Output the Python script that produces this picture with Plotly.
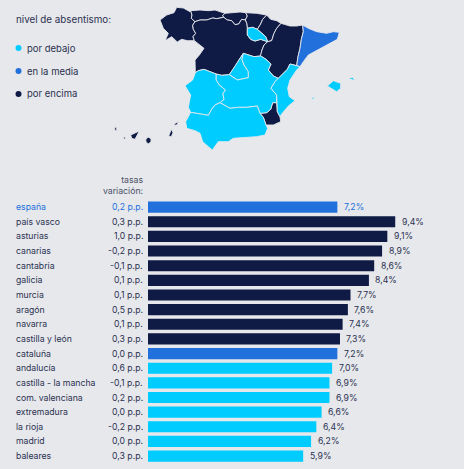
import plotly.graph_objects as go

# Absenteeism rate by region
regions = ["españa", "país vasco", "asturias", "canarias", "cantabria", "galicia", "murcia",
           "aragón", "navarra", "castilla y león", "cataluña", "andalucía",
           "castilla - la mancha", "com. valenciana", "extremadura", "la rioja", "madrid", "baleares"]
rates = [7.2, 9.4, 9.1, 8.9, 8.6, 8.4, 7.7, 7.6, 7.4, 7.3, 7.2, 7.0, 6.9, 6.9, 6.6, 6.4, 6.2, 5.9]
variation = ["0,2", "0,3", "1,0", "-0,2", "-0,1", "0,1", "0,1", "0,5", "0,1", "0,3", "0,0", "0,6",
             "-0,1", "0,2", "0,0", "-0,2", "0,0", "0,3"]
levels = ["media", "encima", "encima", "encima", "encima", "encima", "encima", "encima", "encima",
          "encima", "media", "debajo", "debajo", "debajo", "debajo", "debajo", "debajo", "debajo"]

# Shared borders between regions, in map grid units
gal_ast = [(272,32),(276,45),(274,55),(285,65)]
gal_cyl = [(285,65),(278,76),(280,88),(287,100),(279,110),(283,122)]
ast_can = [(375,40),(368,46),(371,52)]
ast_cyl = [(371,52),(350,56),(338,54),(320,60),(300,60),(285,65)]
can_pv = [(437,38),(442,48),(436,60)]
can_cyl = [(436,60),(425,58),(416,72),(405,74),(395,62),(382,60),(371,52)]
pv_nav = [(500,45),(488,58),(482,72),(472,88)]
pv_rio = [(472,88),(458,82),(442,85)]
pv_cyl = [(442,85),(440,70),(436,60)]
nav_ara = [(543,70),(530,85),(522,100),(515,122),(503,125)]
nav_rio = [(503,125),(497,110),(485,100),(472,88)]
rio_cyl = [(503,125),(482,118),(465,123),(452,118),(442,105),(442,85)]
cyl_ara = [(503,125),(492,135),(486,150),(482,165)]
cyl_clm = [(482,168),(462,170),(445,165),(430,160)]
cyl_mad = [(430,160),(418,178),(408,195),(388,224)]
cyl_clm_west = [(388,224),(365,226),(348,222)]
cyl_ext = [(348,222),(330,214),(312,208),(295,212),(286,218)]
ara_cat = [(608,75),(610,95),(604,118),(600,145),(594,170),(590,197)]
ara_val = [(590,197),(570,192),(562,208),(552,218),(535,235)]
ara_clm = [(535,235),(520,228),(505,210),(513,192),(498,178),(482,168)]
val_mur = [(540,350),(532,335),(530,308)]
val_clm = [(530,308),(530,285),(513,265),(525,245),(535,235)]
mur_and = [(498,375),(490,352),(480,340)]
mur_clm = [(480,340),(500,338),(512,328),(518,308),(530,308)]
clm_and = [(480,340),(472,318),(440,322),(415,322),(390,325),(372,315),(360,308)]
clm_ext = [(360,308),(372,298),(368,282),(376,270),(358,255),(348,240),(348,222)]
ext_and = [(272,337),(300,342),(325,346),(335,328),(345,315),(360,308)]
mad_clm = [(388,224),(412,240),(445,233),(445,215),(432,195),(426,178),(430,160)]

# Coastlines and outer frontiers
gal_coast = [(283,122),(262,122),(245,118),(232,126),(215,110),(195,122),(205,100),(190,85),(180,60),(200,45),(222,38),(230,22),(250,24),(270,35)]
ast_coast = [(272,32),(300,30),(325,32),(345,30),(375,40)]
can_coast = [(375,40),(400,38),(420,36),(437,38)]
pv_coast = [(437,38),(470,40),(500,45)]
nav_coast = [(500,45),(512,58),(530,62),(543,70)]
ara_north = [(543,70),(570,78),(590,78),(608,75)]
cat_coast = [(608,75),(625,85),(650,95),(680,100),(700,95),(718,97),(712,118),(680,135),(650,150),(625,165),(610,185),(600,200),(590,197)]
val_coast = [(590,197),(600,200),(590,210),(570,240),(563,265),(568,290),(585,302),(565,318),(545,342),(540,350)]
mur_coast = [(540,350),(542,365),(520,375),(498,375)]
and_coast = [(272,337),(257,365),(260,385),(285,392),(300,400),(308,425),(325,440),(337,450),(355,425),(385,425),(400,415),(440,412),(470,410),(495,405),(503,385),(498,375)]
cyl_west = [(286,218),(285,180),(298,165),(312,145),(295,132),(283,122)]
ext_west = [(286,218),(278,240),(255,257),(272,285),(265,322),(272,337)]

# Islands
mallorca = [(682,258),(700,242),(722,250),(722,265),(710,275)]
menorca = [(745,235),(758,232),(765,242),(750,238)]
ibiza = [(632,295),(645,290),(640,298)]
la_palma = [(44,382),(50,382),(50,392),(45,392)]
gomera = [(70,412),(76,411),(76,417),(71,417)]
tenerife = [(92,405),(118,393),(105,418),(95,415)]
gran_canaria = [(137,420),(140,414),(146,412),(153,416),(153,425),(146,431),(139,428)]
fuerteventura = [(206,408),(214,388),(219,398),(214,410)]
lanzarote = [(222,372),(235,365),(232,374),(224,376)]


def ring(*chains):
    """Join border chains into one closed outline."""
    pts = []
    for chain in chains:
        pts.extend(chain)
    return pts + [pts[0]]


def rev(chain):
    return chain[::-1]


galicia = ring(gal_coast, gal_ast, gal_cyl)
asturias = ring(ast_coast, ast_can, ast_cyl, rev(gal_ast))
cantabria = ring(can_coast, can_pv, can_cyl, rev(ast_can))
pais_vasco = ring(pv_coast, pv_nav, pv_rio, pv_cyl, rev(can_pv))
navarra = ring(nav_coast, nav_ara, nav_rio, rev(pv_nav))
la_rioja = ring(rev(pv_rio), rev(nav_rio), rio_cyl)
castilla_leon = ring(rev(ast_cyl), rev(can_cyl), rev(pv_cyl), rev(rio_cyl), cyl_ara, cyl_clm, cyl_mad,
                     cyl_clm_west, cyl_ext, cyl_west, rev(gal_cyl))
aragon = ring(rev(nav_ara), ara_north, ara_cat, ara_val, ara_clm, rev(cyl_ara))
cataluna = ring(cat_coast, rev(ara_cat))
valencia = ring(val_coast, val_mur, val_clm, rev(ara_val))
murcia = ring(rev(val_mur), mur_coast, mur_and, mur_clm)
madrid = ring(cyl_mad, mad_clm)
castilla_mancha = ring(rev(cyl_clm), rev(ara_clm), rev(val_clm), rev(mur_clm), clm_and, clm_ext,
                       rev(cyl_clm_west), mad_clm)
extremadura = ring(rev(cyl_ext), rev(clm_ext), rev(ext_and), rev(ext_west))
andalucia = ring(and_coast, mur_and, clm_and, rev(ext_and))

map_groups = [
    ("encima", [galicia, asturias, cantabria, pais_vasco, navarra, castilla_leon, aragon, murcia,
                la_palma, gomera, tenerife, gran_canaria, fuerteventura, lanzarote]),
    ("media", [cataluna]),
    ("debajo", [la_rioja, madrid, castilla_mancha, extremadura, andalucia, valencia, mallorca, menorca, ibiza]),
]

legend_labels = ["por debajo", "en la media", "por encima"]
legend_levels = ["debajo", "media", "encima"]
colors = {"debajo": "#00CCFF", "media": "#2270DB", "encima": "#101B45"}
BG = "#E6E8EC"
INK = "#2B3150"
FONT = "Inter"
ROW_SIZE = 8.7
W, H = 464, 469


def py(px):
    """Paper fraction for a distance from the top of the page."""
    return 1 - px / H


fig = go.Figure()

# Map of regions
for level, outlines in map_groups:
    for outline in outlines:
        xs = [p[0] for p in outline] + [outline[0][0]]
        ys = [p[1] for p in outline] + [outline[0][1]]
        fig.add_trace(go.Scatter(x=xs, y=ys, xaxis="x2", yaxis="y2", mode="lines", fill="toself",
                                 fillcolor=colors[level], line=dict(color=BG, width=0.9),
                                 hoverinfo="skip", showlegend=False))

# Bars, in order from the top
fig.add_trace(go.Bar(x=rates, y=regions, orientation="h", width=0.76,
                     marker=dict(color=[colors[l] for l in levels], line=dict(width=0)),
                     showlegend=False))

fig.update_layout(
    width=W, height=H, autosize=False,
    margin=dict(l=0, r=0, t=0, b=0),
    paper_bgcolor=BG, plot_bgcolor=BG,
    font=dict(family=FONT, size=ROW_SIZE, color=INK),
    xaxis=dict(domain=[148 / W, 1], range=[0, 316 / 26.3], visible=False),
    yaxis=dict(domain=[py(463.4), py(199.8)], categoryorder="array", categoryarray=regions,
               autorange=False, range=[17.5, -0.5], visible=False),
    xaxis2=dict(domain=[100 / W, 370 / W], range=[0, 810], visible=False),
    yaxis2=dict(domain=[py(160), 1], range=[480, 0], visible=False),
)

annotations = []
for i, (name, rate, var) in enumerate(zip(regions, rates, variation)):
    tone = colors["media"] if i == 0 else INK
    annotations.append(dict(text=name, x=13.5 / W, xref="paper", y=name, yref="y",
                            xanchor="left", yanchor="middle", showarrow=False, font=dict(color=tone)))
    annotations.append(dict(text=f"{var} p.p.", x=145 / W, xref="paper", y=name, yref="y",
                            xanchor="right", yanchor="middle", showarrow=False, font=dict(color=tone)))
    annotations.append(dict(text=f"{rate:.1f}%".replace(".", ","), x=rate, xref="x", y=name, yref="y",
                            xanchor="left", yanchor="middle", xshift=4.5, showarrow=False, font=dict(color=tone)))

annotations.append(dict(text="tasas<br>variación:", x=145 / W, xref="paper", y=py(185.5), yref="paper",
                        xanchor="right", yanchor="middle", align="right", showarrow=False,
                        font=dict(color="#4A5066")))
annotations.append(dict(text="nivel de absentismo:", x=13.5 / W, xref="paper", y=py(20), yref="paper",
                        xanchor="left", yanchor="middle", showarrow=False, font=dict(size=9.8)))

legend_dots = []
for k, (label, level) in enumerate(zip(legend_labels, legend_levels)):
    cy = 48 + 23 * k
    annotations.append(dict(text=label, x=25 / W, xref="paper", y=py(cy), yref="paper",
                            xanchor="left", yanchor="middle", showarrow=False, font=dict(size=9.5)))
    legend_dots.append(dict(type="circle", xref="paper", yref="paper", x0=15.5 / W, x1=21.5 / W,
                            y0=py(cy + 3), y1=py(cy - 3), fillcolor=colors[level], line=dict(width=0)))

fig.update_layout(annotations=annotations, shapes=legend_dots)
fig.write_html("out.html", config={"displayModeBar": False})
